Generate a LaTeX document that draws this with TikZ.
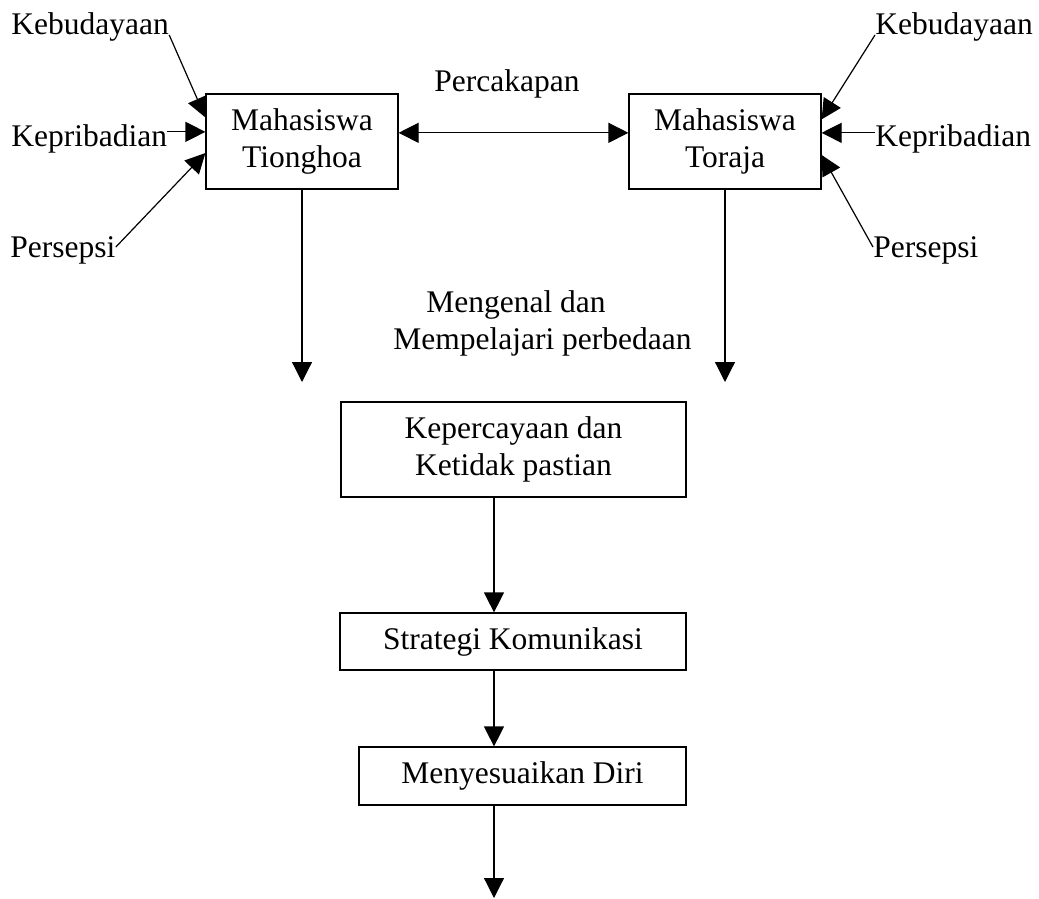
\documentclass[tikz,border=0pt]{standalone}
\usepackage{fontspec}
\setmainfont{Liberation Serif}
\usepackage{tikz}
\usetikzlibrary{shapes, arrows.meta, positioning, calc}
\tikzstyle{kotak} = [draw, rectangle, line width=0.6pt, align=center, inner sep=0pt]
\tikzstyle{teks} = [inner sep=0pt]
\tikzstyle{panah} = [line width=0.6pt, -{Triangle[length=10pt, width=10pt]}]
\tikzstyle{panahdua} = [line width=0.6pt, {Triangle[length=10pt, width=10pt]}-{Triangle[length=10pt, width=10pt]}]

\begin{document}
\begin{tikzpicture}[x=0.5pt, y=-0.5pt, every node/.style={font=\fontsize{15.75}{18.4}\selectfont}]
	\useasboundingbox (0,0) rectangle (1039,899);
	\node [kotak, minimum width=96pt, minimum height=47.5pt] (tionghoa) at (302,141.5) {Mahasiswa\\Tionghoa};
	\node [kotak, minimum width=96pt, minimum height=47.5pt] (toraja) at (725,141.5) {Mahasiswa\\Toraja};
	\node [kotak, minimum width=172.5pt, minimum height=47.5pt] (percaya) at (513.5,449.5) {Kepercayaan dan\\Ketidak pastian};
	\node [kotak, minimum width=173pt, minimum height=28.5pt] (strategi) at (513,641.5) {Strategi Komunikasi};
	\node [kotak, minimum width=163.5pt, minimum height=29pt] (sesuai) at (522.5,776) {Menyesuaikan Diri};

	\node [teks, anchor=base west] (kebL) at (11,35) {Kebudayaan};
	\node [teks, anchor=base west] (kepL) at (11,147) {Kepribadian};
	\node [teks, anchor=base west] (perL) at (10,257) {Persepsi};
	\node [teks, anchor=base west] (kebR) at (875,35) {Kebudayaan};
	\node [teks, anchor=base west] (kepR) at (875,147) {Kepribadian};
	\node [teks, anchor=base west] (perR) at (873,257) {Persepsi};
	\node [teks, anchor=base] (cakap) at (507,92) {Percakapan};
	\node [teks, align=left, anchor=north west] (kenal) at (393,290) {\hspace*{16.5pt}Mengenal dan\\Mempelajari perbedaan};

	\coordinate (tgA) at ($(tionghoa.north west)!0.25!(tionghoa.south west)$);
	\coordinate (tgB) at ($(tionghoa.north west)!0.4!(tionghoa.south west)$);
	\coordinate (tgC) at ($(tionghoa.north west)!0.62!(tionghoa.south west)$);
	\coordinate (trA) at ($(toraja.north east)!0.27!(toraja.south east)$);
	\coordinate (trB) at ($(toraja.north east)!0.41!(toraja.south east)$);
	\coordinate (trC) at ($(toraja.north east)!0.64!(toraja.south east)$);
	\coordinate (tgD) at ($(tionghoa.north east)!0.41!(tionghoa.south east)$);
	\coordinate (trD) at ($(toraja.north west)!0.41!(toraja.south west)$);
	\coordinate (ujungA) at (302,382);
	\coordinate (ujungB) at (725,382);
	\coordinate (alur) at (494,0);
	\coordinate (akhir) at (494,898);

	\draw [panah] (kebL.base east) -- (tgA);
	\draw [panah] (kepL.east |- tgB) -- (tgB);
	\draw [panah] ($(perL.north east)!0.4!(perL.south east)$) -- (tgC);
	\draw [panah] (kebR.base west) -- (trA);
	\draw [panah] (kepR.west |- trB) -- (trB);
	\draw [panah] ($(perR.north west)!0.4!(perR.south west)$) -- (trC);
	\draw [panahdua] (tgD) -- (trD);
	\draw [panah] (tionghoa.south) -- (ujungA);
	\draw [panah] (toraja.south) -- (ujungB);
	\draw [panah] (percaya.south -| alur) -- (strategi.north -| alur);
	\draw [panah] (strategi.south -| alur) -- (sesuai.north -| alur);
	\draw [panah] (sesuai.south -| alur) -- (akhir);
\end{tikzpicture}
\end{document}
